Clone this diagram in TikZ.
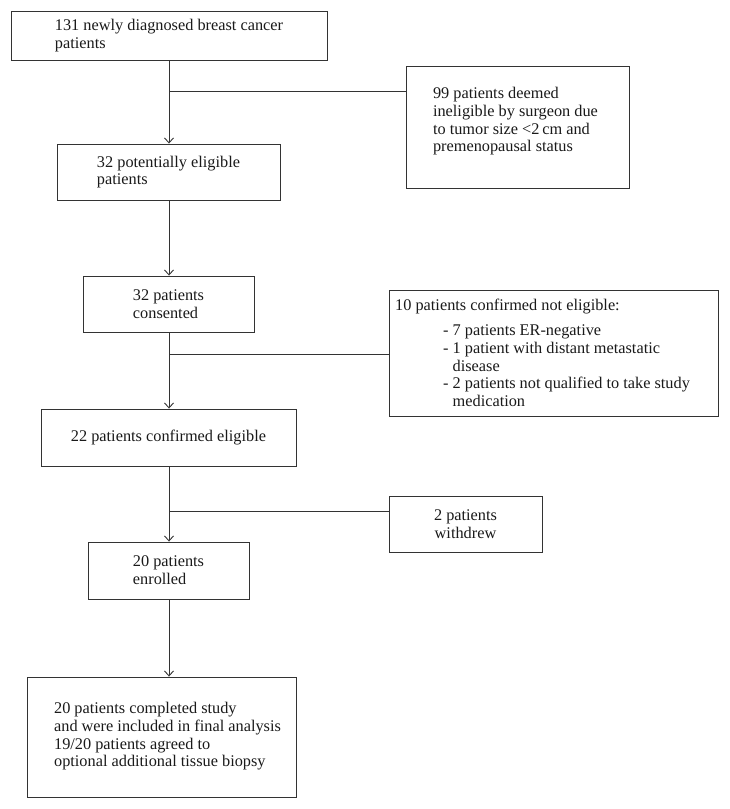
\documentclass[tikz,border=0pt]{standalone}
\usepackage{fontspec}
\setmainfont{Liberation Serif}
\usetikzlibrary{arrows.meta}
\newcommand\txtfont{\fontsize{16.3}{17.7}\selectfont}
\definecolor{linec}{HTML}{333333}
\definecolor{textc}{HTML}{1A1A1A}
\begin{document}
\begin{tikzpicture}[x=1pt,y=-1pt,
  box/.style={draw=linec, line width=0.9pt, inner sep=0pt, align=left, font=\txtfont, text=textc},
  txt/.style={inner sep=0pt, align=left, font=\txtfont, text=textc},
  conn/.style={draw=linec, line width=0.9pt},
  arr/.style={conn, -{Straight Barb[length=5pt,width=9pt]}}]
\useasboundingbox[fill=white] (0,0) rectangle (729,809);

% main column boxes
\node[box, minimum width=316pt, minimum height=49pt] (n1) at (169,35.5) {131 newly diagnosed breast cancer\\patients};
\node[box, minimum width=223pt, minimum height=56pt] (n2) at (168.5,172) {32 potentially eligible\\patients};
\node[box, minimum width=171pt, minimum height=56pt] (n3) at (168.5,304) {32 patients\\consented};
\node[box, minimum width=255pt, minimum height=57pt] (n4) at (168.5,437.5) {22 patients confirmed eligible};
\node[box, minimum width=161pt, minimum height=57pt] (n5) at (168.5,570.5) {20 patients\\enrolled};
\node[box, minimum width=269pt, minimum height=120pt] (n6) at (161.5,737) {};
\node[txt] (t6) at (167.5,736.5) {20 patients completed study\\and were included in final analysis\\19/20 patients agreed to\\optional additional tissue biopsy};

% side boxes
\node[box, minimum width=223pt, minimum height=122pt] (s1) at (517.5,127) {};
\node[txt] (ts1) at (515.5,121.5) {99 patients deemed\\ineligible by surgeon due\\to tumor size <2\,cm and\\premenopausal status};
\node[box, minimum width=329pt, minimum height=126pt] (s2) at (553.5,353) {};
\node[txt, anchor=west] (ts2) at (395,353) {10 patients confirmed not eligible:\\[7.3pt]
\hspace*{48pt}- 7 patients ER-negative\\
\hspace*{48pt}- 1 patient with distant metastatic\\
\hspace*{48pt}\hphantom{-}\ disease\\
\hspace*{48pt}- 2 patients not qualified to take study\\
\hspace*{48pt}\hphantom{-}\ medication};
\node[box, align=center, minimum width=153pt, minimum height=56pt] (s3) at (465.5,524) {2 patients\\withdrew};

% connectors
\coordinate (axis) at (169,0);
\coordinate (b1) at (169,91);
\coordinate (b2) at (169,354);
\coordinate (b3) at (169,511);
\draw[arr] (n1.south -| axis) -- (n2.north -| axis);
\draw[arr] (n2.south -| axis) -- (n3.north -| axis);
\draw[arr] (n3.south -| axis) -- (n4.north -| axis);
\draw[arr] (n4.south -| axis) -- (n5.north -| axis);
\draw[arr] (n5.south -| axis) -- (n6.north -| axis);
\draw[conn] (b1) -- (b1 -| s1.west);
\draw[conn] (b2) -- (b2 -| s2.west);
\draw[conn] (b3) -- (b3 -| s3.west);
\end{tikzpicture}
\end{document}
